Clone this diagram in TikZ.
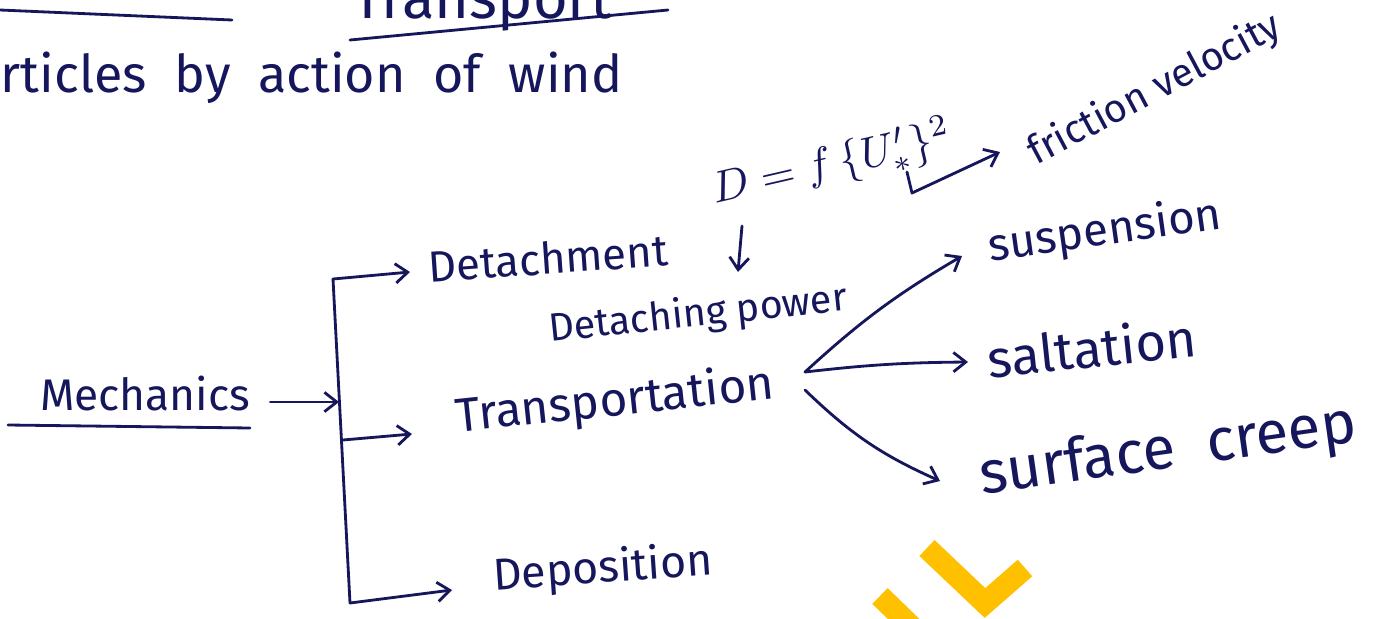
\documentclass[tikz,border=0pt]{standalone}
\usepackage{fontspec}
\setmainfont{Fira Sans}
\usetikzlibrary{arrows.meta}
\definecolor{ink}{RGB}{22,22,92}
\definecolor{logo}{RGB}{255,192,0}
\newcommand\fitw[2]{\resizebox{#1}{!}{#2}}
\tikzset{
  lbl/.style={inner sep=0pt, text=ink},
  pen/.style={draw=ink, line width=1.6pt, line cap=round, line join=round},
  arr/.style={pen, -{Straight Barb[length=7pt,width=11pt,line width=1.6pt]}},
}
\begin{document}
\begin{tikzpicture}[x=0.02cm,y=-0.02cm]
\useasboundingbox (0,0) rectangle (1377,619);
\fill[white] (0,0) rectangle (1377,619);
% partial top lines
\draw[pen] (0,10) -- (232,20);
\node[lbl,anchor=base west] (tr) at (352,18) {\fitw{5.2cm}{Transport}};
\draw[pen] (350,40) -- (668,10);
\node[lbl,anchor=base west] (art) at (-28,92) {\fitw{13.0cm}{articles \ by \ action \ of \ wind}};
% main labels
\node[lbl] (mech) at (145,393) {\fitw{4.2cm}{Mechanics}};
\draw[pen] (8,425) -- (250,428);
\node[lbl,rotate=4] (det) at (548,258) {\fitw{4.8cm}{Detachment}};
\node[lbl,rotate=13] (eq) at (832,164) {\fitw{4.9cm}{$D=f\,\{U_*'\}^2$}};
\node[lbl,rotate=6] (dp) at (698,315) {\fitw{6.0cm}{Detaching power}};
\node[lbl,rotate=28] (fv) at (1155,90) {\fitw{5.6cm}{friction velocity}};
\node[lbl,rotate=6] (trn) at (615,402) {\fitw{6.4cm}{Transportation}};
\node[lbl,rotate=8] (sus) at (1105,232) {\fitw{4.7cm}{suspension}};
\node[lbl,rotate=6] (sal) at (1092,347) {\fitw{4.2cm}{saltation}};
\node[lbl,rotate=8] (sc) at (1168,452) {\fitw{7.6cm}{surface \ creep}};
\node[lbl,rotate=4] (dep) at (603,570) {\fitw{4.4cm}{Deposition}};
% bracket
\coordinate (btop) at (333,279);
\coordinate (bm) at (339,402);
\coordinate (bmid) at (343,440);
\coordinate (bbot) at (350,603);
\coordinate (detin) at (410,272);
\coordinate (trnin) at (412,434);
\coordinate (depin) at (452,590);
\draw[pen] (btop) -- (bbot);
\draw[arr] (mech.east) ++(20,9) -- (bm);
\draw[arr] (btop) -- (detin);
\draw[arr] (bmid) -- (trnin);
\draw[arr] (bbot) -- (depin);
% detaching arrow
\coordinate (d1) at (742,226);
\coordinate (d2) at (738,272);
\draw[arr] (d1) -- (d2);
% friction velocity arrow
\coordinate (l1) at (907,172);
\coordinate (l2) at (912,193);
\coordinate (l3) at (1000,152);
\draw[arr] (l1) -- (l2) -- (l3);
% branches
\coordinate (t1) at (805,372);
\coordinate (t2) at (805,390);
\draw[arr] (t1) to[bend left=6] (962,256);
\draw[arr] (t1) to[bend left=3] (968,362);
\draw[arr] (t2) to[bend right=10] (940,481);
% logo
\draw[logo, line width=0.44cm] (927,548) -- (985,603) -- (1025,568);
\draw[logo, line width=0.44cm] (880,596) -- (915,630);
\end{tikzpicture}
\end{document}
